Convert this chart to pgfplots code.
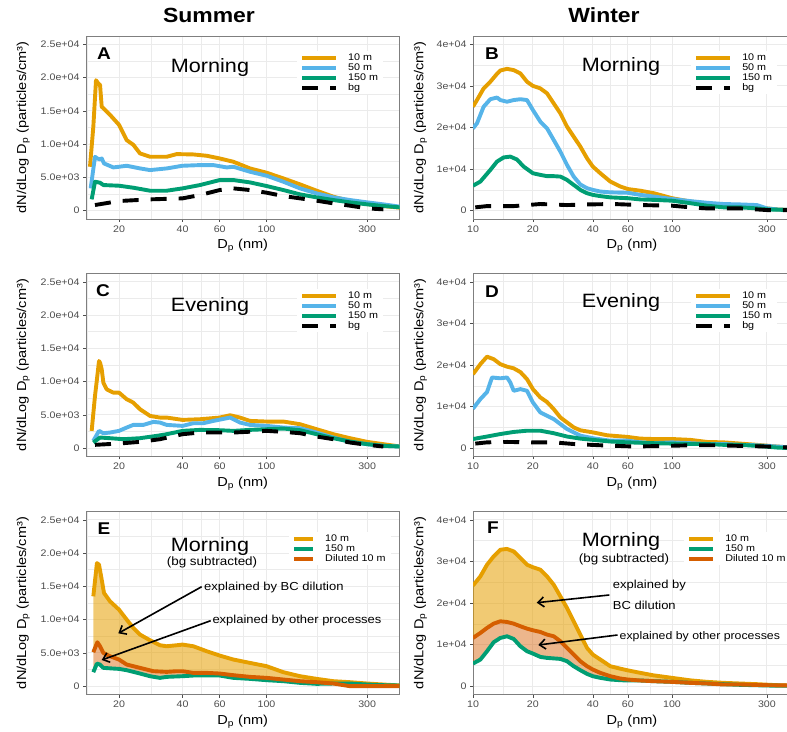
\documentclass[border=0pt]{standalone}
\usepackage{fontspec}
\setmainfont{Liberation Sans}[FakeStretch=1.12]
\usepackage{pgfplots}
\pgfplotsset{compat=1.18}
\usepgfplotslibrary{fillbetween}
\usetikzlibrary{arrows.meta}
\definecolor{c10}{HTML}{E69F00}
\definecolor{c50}{HTML}{56B4E9}
\definecolor{c150}{HTML}{009E73}
\definecolor{cdil}{HTML}{D55E00}
\definecolor{gridc}{HTML}{EBEBEB}
\definecolor{tickc}{HTML}{4D4D4D}
\definecolor{framec}{HTML}{7F7F7F}
\newcommand{\tickfont}{\fontsize{9.5}{11}\selectfont}
\newcommand{\titfont}{\fontsize{13}{15}\selectfont}
\newcommand{\legfont}{\fontsize{9.6}{10}\selectfont}
\newcommand{\bigfont}{\fontsize{19.3}{22}\selectfont}
\newcommand{\subfont}{\fontsize{12}{14}\selectfont}
\newcommand{\annfont}{\fontsize{11.6}{13}\selectfont}
\newcommand{\letfont}{\fontsize{17}{19}\selectfont\bfseries}
\newcommand{\seasfont}{\fontsize{20.5}{23}\selectfont\bfseries}
\pgfplotsset{
  every axis/.append style={
    scale only axis, height=183pt, scaled y ticks=false, scaled x ticks=false,
    axis line style={framec,line width=0.6pt},
    tick pos=left, tick align=outside, major tick length=3pt, minor tick length=0pt,
    tick style={tickc,line width=0.6pt},
    grid=both, major grid style={gridc,line width=0.9pt}, minor grid style={gridc,line width=0.5pt},
    ticklabel style={font=\tickfont, text=tickc},
    label style={font=\titfont},
    legend cell align=left,
    legend style={draw=none, fill=white, font=\legfont, inner xsep=3pt, inner ysep=2pt, row sep=1.2pt,
      nodes={inner ysep=0pt, inner xsep=2pt, text height=6.9pt, text depth=1.9pt},
      /tikz/every odd column/.append style={column sep=8pt}},
  },
  every axis plot/.append style={line width=3.9pt, line join=round},
}
\tikzset{bgline/.style={black, dash pattern=on 16pt off 12pt, line cap=butt}}
\newcommand{\xl}{D\textsubscript{p} (nm)}
\newcommand{\yl}{dN/dLog D\textsubscript{p} (particles/cm³)}
\begin{document}
\begin{tikzpicture}
% ---------- A ----------
\begin{axis}[xmode=log, width=313.5pt, xmin=13.95, xmax=427,
  xtick={20,40,60,100,300}, xticklabels={20,40,60,100,300},
  minor xtick={14.14,28.28,48.99,77.46,173.2},
  ymin=-1250, ymax=26250, ytick={0,5000,10000,15000,20000,25000},
  yticklabels={0,5.0e+03,1.0e+04,1.5e+04,2.0e+04,2.5e+04},
  minor ytick={2500,7500,12500,17500,22500},
  xlabel={\xl}, ylabel={\yl},
  x label style={at={(axis description cs:0.5,-0.148)},anchor=center},
  y label style={at={(axis description cs:-0.2,0.5)},anchor=center},
  legend image code/.code={\draw[#1] (0pt,0pt) -- (34pt,0pt);},
  at={(86pt,512pt)}, anchor=south west,
  legend style={at={(0.673,0.918)},anchor=north west}]
\addplot[c10] coordinates {(14.57,6600)(15.11,12600)(15.56,19600)(15.97,19100)(16.26,18900)(16.56,15600)(16.86,15400)(18.13,14400)(20,12900)(21.75,10600)(23.38,9900)(25.15,8600)(28.05,8100)(33.64,8100)(37.53,8500)(45.0,8450)(52.1,8250)(60,7850)(69.7,7350)(83.5,6350)(100.2,5700)(120.2,4850)(144.2,3950)(172.9,3000)(207.4,2100)(248.8,1450)(300,1000)(358,700)(429,450)};
\addlegendentry{10 m}
\addplot[c50] coordinates {(14.68,3350)(15.39,8100)(15.79,7850)(16.26,7700)(16.56,7850)(16.98,7100)(18.80,6500)(20,6600)(21.75,6750)(25.15,6350)(28.05,6100)(33.64,6350)(40,6750)(48.4,6850)(56.0,6850)(64.8,6500)(69.7,6600)(83.5,5850)(100.2,5250)(120.2,4350)(144.2,3350)(172.9,2600)(207.4,2000)(248.8,1600)(300,1250)(358,950)(429,600)};
\addlegendentry{50 m}
\addplot[c150] coordinates {(14.84,1700)(15.39,4350)(16.26,4200)(16.86,3850)(20,3750)(23.38,3450)(28.05,3000)(33.64,3000)(40,3350)(48.4,3850)(60,4600)(69.7,4600)(83.5,4250)(100.2,3700)(120.2,3100)(144.2,2450)(172.9,2000)(207.4,1600)(248.8,1250)(300,950)(358,700)(429,500)};
\addlegendentry{150 m}
\addplot[bgline] coordinates {(15.39,850)(20,1450)(28.05,1700)(40,1850)(48.4,2350)(60,3100)(69.7,3350)(83.5,3100)(100.2,2700)(120.2,2200)(144.2,1850)(172.9,1500)(207.4,1100)(248.8,750)(300,350)(358,200)};
\addlegendentry{bg}
\end{axis}
% ---------- B ----------
\begin{axis}[xmode=log, width=318pt, xmin=10, xmax=396.4,
  xtick={10,20,40,60,100,300}, xticklabels={10,20,40,60,100,300},
  minor xtick={14.14,28.28,48.99,77.46,173.2},
  ymin=-2000, ymax=42000, ytick={0,10000,20000,30000,40000},
  yticklabels={0,1e+04,2e+04,3e+04,4e+04},
  minor ytick={5000,15000,25000,35000},
  xlabel={\xl}, ylabel={\yl},
  x label style={at={(axis description cs:0.5,-0.148)},anchor=center},
  y label style={at={(axis description cs:-0.165,0.5)},anchor=center},
  legend image code/.code={\draw[#1] (0pt,0pt) -- (34pt,0pt);},
  at={(473pt,512pt)}, anchor=south west,
  legend style={at={(0.686,0.918)},anchor=north west}]
\addplot[c10] coordinates {(10,25000)(10.47,26600)(11.31,29400)(12.22,31000)(13.20,32900)(13.72,33700)(14.82,34100)(16.01,33800)(17.30,33000)(18.68,31000)(20,30000)(21.80,29400)(23.55,28200)(25.44,25800)(27.48,23400)(29.68,20200)(32.06,17800)(34.63,15400)(37.41,12600)(40,10600)(43.64,9000)(48.98,7000)(55.02,5800)(60,5200)(69.34,4800)(80.91,4200)(100,3000)(123.6,2200)(149.9,1600)(181.8,1200)(220.5,950)(267.4,800)(300,550)(337,300)(396,150)};
\addlegendentry{10 m}
\addplot[c50] coordinates {(10,19800)(10.47,21000)(11.31,25000)(12.22,26800)(13.20,27200)(13.72,26600)(14.82,26200)(16.01,26600)(17.30,26800)(18.68,26600)(20,24200)(21.80,21400)(23.55,19800)(25.44,17000)(27.48,14200)(29.68,11000)(32.06,8200)(34.63,6300)(37.41,5400)(40,5000)(43.64,4600)(48.98,4400)(60,4300)(69.34,3800)(80.91,3400)(100,2800)(123.6,2300)(149.9,1900)(181.8,1600)(220.5,1500)(267.4,1350)(300,550)(337,300)(396,150)};
\addlegendentry{50 m}
\addplot[c150] coordinates {(10,6000)(10.89,7000)(12.22,9800)(13.20,11800)(14.26,12800)(15.40,13000)(16.64,12300)(17.97,10600)(20,9000)(21.80,8600)(23.55,8300)(25.44,8300)(27.48,8200)(29.68,7400)(32.06,6200)(34.63,5000)(37.41,4200)(40,3800)(43.64,3500)(48.98,3200)(60,3000)(69.34,2700)(80.91,2600)(100,2400)(123.6,1800)(149.9,1200)(181.8,800)(220.5,800)(267.4,550)(300,300)(396,150)};
\addlegendentry{150 m}
\addplot[bgline] coordinates {(10.27,800)(11.76,1100)(16.01,1100)(21.80,1600)(29.68,1350)(37.41,1500)(50.9,1600)(69.34,1350)(100,1200)(123.6,800)(149.9,550)(220.5,550)(300,150)(379.8,150)};
\addlegendentry{bg}
\end{axis}
% ---------- C ----------
\begin{axis}[xmode=log, width=313.5pt, xmin=13.95, xmax=427,
  xtick={20,40,60,100,300}, xticklabels={20,40,60,100,300},
  minor xtick={14.14,28.28,48.99,77.46,173.2},
  ymin=-1250, ymax=26250, ytick={0,5000,10000,15000,20000,25000},
  yticklabels={0,5.0e+03,1.0e+04,1.5e+04,2.0e+04,2.5e+04},
  minor ytick={2500,7500,12500,17500,22500},
  xlabel={\xl}, ylabel={\yl},
  x label style={at={(axis description cs:0.5,-0.148)},anchor=center},
  y label style={at={(axis description cs:-0.2,0.5)},anchor=center},
  legend image code/.code={\draw[#1] (0pt,0pt) -- (34pt,0pt);},
  at={(86pt,274.5pt)}, anchor=south west,
  legend style={at={(0.673,0.915)},anchor=north west}]
\addplot[c10] coordinates {(14.84,2600)(15.39,7850)(15.72,10350)(16.08,13100)(16.26,12850)(16.56,11850)(16.86,9850)(17.48,8850)(18.80,8350)(20,8350)(21.75,7350)(23.38,6850)(25.15,5850)(28.05,4850)(31.28,4600)(33.64,4600)(40,4250)(48.4,4350)(60,4600)(67.2,4950)(74.9,4600)(83.5,4100)(100.2,4000)(120.2,4000)(144.2,3600)(172.9,2850)(207.4,2100)(248.8,1500)(300,950)(358,600)(429,250)};
\addlegendentry{10 m}
\addplot[c50] coordinates {(15.11,1100)(16.08,2600)(16.86,2250)(18.13,2350)(20,2600)(21.75,3100)(23.38,3500)(26.09,3500)(29.09,3950)(31.28,3850)(33.64,3500)(40,3350)(45.0,3750)(50.2,3750)(56.0,4100)(67.2,4600)(74.9,3850)(83.5,3500)(100.2,3350)(120.2,3100)(144.2,3000)(172.9,2350)(207.4,1600)(248.8,950)(300,600)(358,350)(429,250)};
\addlegendentry{50 m}
\addplot[c150] coordinates {(15.11,850)(16.26,1600)(18.13,1500)(20.97,1350)(25.15,1500)(30.16,1850)(33.64,2100)(40,2600)(48.4,2750)(60,2700)(69.7,2600)(83.5,2750)(100.2,2850)(120.2,2950)(144.2,2700)(172.9,2100)(207.4,1500)(248.8,1000)(300,600)(358,350)(429,250)};
\addlegendentry{150 m}
\addplot[bgline] coordinates {(15.39,500)(20,700)(25.15,950)(31.28,1350)(40,2100)(48.4,2350)(69.7,2350)(100.2,2600)(120.2,2450)(144.2,2250)(172.9,1750)(207.4,1350)(248.8,850)(300,500)(358,250)};
\addlegendentry{bg}
\end{axis}
% ---------- D ----------
\begin{axis}[xmode=log, width=318pt, xmin=10, xmax=396.4,
  xtick={10,20,40,60,100,300}, xticklabels={10,20,40,60,100,300},
  minor xtick={14.14,28.28,48.99,77.46,173.2},
  ymin=-2000, ymax=42000, ytick={0,10000,20000,30000,40000},
  yticklabels={0,1e+04,2e+04,3e+04,4e+04},
  minor ytick={5000,15000,25000,35000},
  xlabel={\xl}, ylabel={\yl},
  x label style={at={(axis description cs:0.5,-0.148)},anchor=center},
  y label style={at={(axis description cs:-0.165,0.5)},anchor=center},
  legend image code/.code={\draw[#1] (0pt,0pt) -- (34pt,0pt);},
  at={(473pt,274.5pt)}, anchor=south west,
  legend style={at={(0.686,0.915)},anchor=north west}]
\addplot[c10] coordinates {(10,17800)(10.89,20200)(11.76,22000)(12.70,21400)(13.72,20200)(14.82,19600)(16.01,19200)(17.30,18300)(18.68,16600)(20,14200)(21.80,12200)(23.55,11100)(25.44,9400)(27.48,7400)(29.68,6200)(32.06,5000)(34.63,4300)(40,3800)(47.2,3100)(60,2700)(69.34,2300)(80.91,2200)(100,2200)(123.6,2000)(149.9,1500)(181.8,1400)(220.5,1100)(267.4,800)(337,400)(396,150)};
\addlegendentry{10 m}
\addplot[c50] coordinates {(10,9500)(10.89,11800)(11.76,13500)(12.46,17000)(13.72,16800)(14.82,17000)(15.40,15800)(16.01,13800)(17.30,14200)(18.68,13800)(20,11000)(21.80,8600)(25.44,7000)(29.68,4600)(34.63,3000)(40,2400)(48.98,1800)(60,1800)(69.34,1400)(80.91,1200)(100,1400)(123.6,1200)(149.9,1000)(181.8,1000)(220.5,800)(267.4,700)(337,400)(396,150)};
\addlegendentry{50 m}
\addplot[c150] coordinates {(10,2200)(11.76,2800)(13.72,3400)(16.01,3900)(18.68,4200)(21.80,4200)(25.44,3600)(29.68,2800)(34.63,2300)(40,2000)(48.98,1600)(60,1400)(80.91,1200)(100,1100)(123.6,1000)(149.9,1000)(181.8,800)(220.5,800)(267.4,550)(337,150)(396,0)};
\addlegendentry{150 m}
\addplot[bgline] coordinates {(10.27,1100)(11.76,1400)(14.82,1500)(20.2,1400)(25.44,1400)(32.06,1000)(43.64,700)(64.2,400)(94.4,550)(123.6,700)(168.3,700)(220.5,550)(300,400)(396,150)};
\addlegendentry{bg}
\end{axis}
% ---------- E ----------
\begin{axis}[xmode=log, set layers, width=313.5pt, xmin=13.95, xmax=427,
  xtick={20,40,60,100,300}, xticklabels={20,40,60,100,300},
  minor xtick={14.14,28.28,48.99,77.46,173.2},
  ymin=-1250, ymax=26250, ytick={0,5000,10000,15000,20000,25000},
  yticklabels={0,5.0e+03,1.0e+04,1.5e+04,2.0e+04,2.5e+04},
  minor ytick={2500,7500,12500,17500,22500},
  xlabel={\xl}, ylabel={\yl},
  x label style={at={(axis description cs:0.5,-0.148)},anchor=center},
  y label style={at={(axis description cs:-0.2,0.5)},anchor=center},
  legend image code/.code={\draw[#1] (0pt,0pt) -- (19pt,0pt);},
  at={(86pt,36.5pt)}, anchor=south west,
  legend style={at={(0.648,0.888)},anchor=north west}]
\addplot[c10, name path=e10] coordinates {(15.11,13500)(15.72,18500)(16.08,18250)(16.56,16000)(16.98,14000)(18.13,12750)(20,11500)(21.75,10000)(23.38,8750)(25.15,7750)(28.05,6900)(31.28,6150)(33.64,6000)(37.53,6150)(40,6250)(45.0,6000)(52.1,5250)(60,4600)(69.7,4000)(83.5,3500)(100.2,3000)(120.2,2100)(144.2,1500)(172.9,1100)(207.4,750)(248.8,600)(300,400)(358,250)(429,100)};
\addlegendentry{10 m}
\addplot[c150, name path=e150] coordinates {(15.11,2100)(15.72,3400)(16.26,3250)(16.86,2750)(18.80,2650)(20,2600)(21.75,2400)(25.15,1900)(28.05,1500)(31.28,1250)(33.64,1400)(40,1500)(45.0,1600)(52.1,1600)(60,1600)(69.7,1250)(83.5,1100)(100.2,900)(120.2,750)(144.2,500)(172.9,350)(207.4,400)(248.8,400)(300,250)(358,150)(429,100)};
\addlegendentry{150 m}
\addplot[cdil, name path=edil] coordinates {(15.11,5100)(15.79,6600)(16.26,6000)(16.86,5000)(18.13,4500)(20,4000)(21.75,3250)(25.15,2750)(29.09,2250)(33.64,2150)(37.53,2250)(40,2250)(45.0,2000)(52.1,2000)(60,1900)(69.7,1650)(83.5,1400)(100.2,1250)(120.2,1000)(144.2,750)(172.9,600)(207.4,400)(248.8,0)(300,0)(429,0)};
\addlegendentry{Diluted 10 m}
\addplot[fill=c10, fill opacity=0.55, draw=none, forget plot] fill between[of=e10 and edil];
\addplot[fill=cdil, fill opacity=0.45, draw=none, forget plot] fill between[of=edil and e150];
\end{axis}
% ---------- F ----------
\begin{axis}[xmode=log, set layers, width=318pt, xmin=10, xmax=396.4,
  xtick={10,20,40,60,100,300}, xticklabels={10,20,40,60,100,300},
  minor xtick={14.14,28.28,48.99,77.46,173.2},
  ymin=-2000, ymax=42000, ytick={0,10000,20000,30000,40000},
  yticklabels={0,1e+04,2e+04,3e+04,4e+04},
  minor ytick={5000,15000,25000,35000},
  xlabel={\xl}, ylabel={\yl},
  x label style={at={(axis description cs:0.5,-0.148)},anchor=center},
  y label style={at={(axis description cs:-0.165,0.5)},anchor=center},
  legend image code/.code={\draw[#1] (0pt,0pt) -- (24pt,0pt);},
  at={(473pt,36.5pt)}, anchor=south west,
  legend style={at={(0.664,0.888)},anchor=north west}]
\addplot[c10, name path=f10] coordinates {(10,24200)(10.89,26400)(11.76,29200)(12.70,31200)(13.72,32800)(14.82,33000)(16.01,32400)(17.30,30800)(18.68,29200)(20,28600)(21.80,28000)(23.55,26400)(25.44,24400)(27.48,21600)(29.68,18800)(32.06,15600)(34.63,12400)(37.41,9200)(40,7600)(43.64,6400)(48.98,4800)(55.02,4200)(60,3800)(69.34,3200)(80.91,2600)(100,2000)(123.6,1400)(149.9,1040)(181.8,800)(220.5,640)(267.4,480)(337,240)(396,160)};
\addlegendentry{10 m}
\addplot[c150, name path=f150] coordinates {(10,5440)(10.89,6400)(11.76,8400)(12.70,10560)(13.72,11600)(14.82,12000)(16.01,11360)(17.30,9600)(18.68,8400)(20,7840)(21.80,7040)(23.55,6800)(27.48,6560)(29.68,6000)(32.06,4800)(34.63,3840)(37.41,2960)(40,2400)(43.64,2000)(48.98,1600)(55.02,1440)(60,1360)(69.34,1360)(80.91,1200)(100,1040)(123.6,800)(149.9,640)(181.8,480)(220.5,320)(300,160)(396,80)};
\addlegendentry{150 m}
\addplot[cdil, name path=fdil] coordinates {(10,11600)(10.89,12800)(11.76,14000)(12.70,15040)(13.72,15600)(14.82,15440)(16.01,15040)(17.30,14400)(18.68,13840)(20,13440)(21.80,13040)(23.55,12400)(25.44,12000)(27.48,10800)(29.68,9200)(32.06,7600)(34.63,6000)(37.41,4800)(40,4000)(43.64,3200)(48.98,2400)(55.02,1840)(60,1600)(69.34,1360)(80.91,1200)(100,1040)(123.6,800)(149.9,640)(181.8,400)(220.5,400)(300,240)(396,160)};
\addlegendentry{Diluted 10 m}
\addplot[fill=c10, fill opacity=0.55, draw=none, forget plot] fill between[of=f10 and fdil];
\addplot[fill=cdil, fill opacity=0.45, draw=none, forget plot] fill between[of=fdil and f150];
\end{axis}
% ---------- titles and annotations ----------
\node[font=\seasfont] at (209pt,716pt) {Summer};
\node[font=\seasfont] at (604pt,716pt) {Winter};
\node[font=\letfont] at (104pt,677pt) {A};
\node[font=\letfont] at (492pt,677pt) {B};
\node[font=\letfont] at (103pt,440pt) {C};
\node[font=\letfont] at (492pt,439pt) {D};
\node[font=\letfont] at (104pt,202pt) {E};
\node[font=\letfont] at (493pt,203pt) {F};
\node[font=\bigfont] at (210pt,663pt) {Morning};
\node[font=\bigfont] at (621pt,664pt) {Morning};
\node[font=\bigfont] at (210pt,424pt) {Evening};
\node[font=\bigfont] at (621pt,428pt) {Evening};
\node[font=\bigfont] at (210pt,184pt) {Morning};
\node[font=\subfont] at (212pt,169pt) {(bg subtracted)};
\node[font=\bigfont] at (621pt,189pt) {Morning};
\node[font=\subfont] at (624pt,172pt) {(bg subtracted)};
\node[font=\annfont, anchor=west, inner sep=0pt] at (204pt,143.7pt) {explained by BC dilution};
\node[font=\annfont, anchor=west, inner sep=0pt] at (212.3pt,110.3pt) {explained by other processes};
\draw[line width=1.6pt, -{Straight Barb[length=6pt,width=10pt]}] (201.7pt,144.3pt) -- (118.3pt,97.7pt);
\draw[line width=1.6pt, -{Straight Barb[length=6pt,width=10pt]}] (210.7pt,110.3pt) -- (101.7pt,71pt);
\node[font=\annfont, anchor=west, inner sep=0pt] at (612.7pt,145pt) {explained by};
\node[font=\annfont, anchor=west, inner sep=0pt] at (612.7pt,126pt) {BC dilution};
\node[font=\fontsize{11}{13}\selectfont, anchor=west, inner sep=0pt] at (619.5pt,94.3pt) {explained by other processes};
\draw[line width=1.6pt, -{Straight Barb[length=6pt,width=10pt]}] (609.3pt,136pt) -- (536.7pt,128.3pt);
\draw[line width=1.6pt, -{Straight Barb[length=6pt,width=10pt]}] (617.5pt,96pt) -- (538.3pt,86pt);
\pgfresetboundingbox
\useasboundingbox (0pt,0pt) rectangle (787pt,731pt);
\end{tikzpicture}
\end{document}
